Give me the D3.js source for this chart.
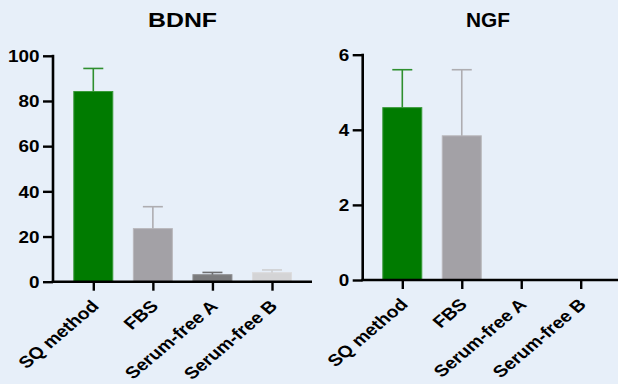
<!DOCTYPE html>
<html><head><meta charset="utf-8">
<script src="https://cdn.jsdelivr.net/npm/d3@7"></script>
<style>
html,body{margin:0;padding:0;background:#e7eff9;}
svg{display:block;font-family:"Liberation Sans",Arial,sans-serif;font-weight:bold;}
</style></head><body>
<svg id="c" width="618" height="384"></svg>
<script>
const categories = ["SQ method", "FBS", "Serum-free A", "Serum-free B"];
const bdnfValues = [84.2, 23.5, 3.1, 4.0];
const bdnfErrors = [10.2, 9.7, 1.0, 1.2];
const ngfValues = [4.59, 3.84, 0, 0];
const ngfErrors = [1.01, 1.76, 0, 0];
const bdnfTicks = [0, 20, 40, 60, 80, 100];
const ngfTicks = [0, 2, 4, 6];
const barColors = ["#007b00", "#a3a1a6", "#7a7a7c", "#d4d4d6"];
const strokeColors = ["#3a9a3a", "#b9b8bc", "#8e8e90", "#dcdcde"];
const errColors = ["#2f8f2f", "#aeadb1", "#6e6e70", "#cfcfd1"];

const svg = d3.select("#c");
const SX = 1.18;

function panel(cfg) {
  const g = svg.append("g");
  const x = d3.scalePoint().domain(categories).range(cfg.xr);
  const y = d3.scaleLinear().domain(cfg.yd).range(cfg.yr);
  const bw = 39;
  g.selectAll("rect.bar").data(cfg.values).join("rect")
    .attr("x", (d, i) => x(categories[i]) - bw / 2)
    .attr("y", d => y(d))
    .attr("width", bw)
    .attr("height", d => y(0) - y(d))
    .attr("fill", (d, i) => barColors[i])
    .attr("stroke", (d, i) => strokeColors[i])
    .attr("stroke-width", 1)
    .style("display", d => d > 0 ? null : "none");
  cfg.values.forEach((v, i) => {
    const e = cfg.errors[i];
    if (!(v > 0)) return;
    const cx = x(categories[i]);
    g.append("line").attr("x1", cx).attr("x2", cx)
      .attr("y1", y(v)).attr("y2", y(v + e))
      .attr("stroke", errColors[i]).attr("stroke-width", 1.6);
    g.append("line").attr("x1", cx - 10).attr("x2", cx + 10)
      .attr("y1", y(v + e)).attr("y2", y(v + e))
      .attr("stroke", errColors[i]).attr("stroke-width", 1.6);
  });
  const ya = d3.axisLeft(y).tickValues(cfg.ticks).tickSize(10).tickFormat(d3.format("d"));
  const yg = g.append("g").attr("transform", `translate(${cfg.ax},0)`).call(ya);
  yg.select(".domain").attr("stroke", "#000").attr("stroke-width", 2.6)
    .attr("d", `M0,${cfg.yr[0]}V${y(cfg.yd[1]) - 1}`);
  yg.selectAll(".tick line").attr("stroke", "#000").attr("stroke-width", 2.4);
  yg.selectAll(".tick text").attr("fill", "#000").style("font-size", "16px")
    .attr("x", 0).attr("dy", "0.36em")
    .attr("transform", `translate(-13.5,0) scale(${SX},1)`)
    .style("font-weight", "bold").style("font-family", "Liberation Sans, Arial, sans-serif");
  const xa = d3.axisBottom(x).tickSize(9).tickFormat("");
  const xg = g.append("g").attr("transform", `translate(0,${cfg.yr[0]})`).call(xa);
  xg.select(".domain").attr("stroke", "#000").attr("stroke-width", 2.6)
    .attr("d", `M${cfg.ax - 1.3},0H${cfg.xend}`);
  xg.selectAll(".tick line").attr("stroke", "#000").attr("stroke-width", 2.4);
  g.selectAll("text.xl").data(categories).join("text")
    .attr("class", "xl")
    .attr("text-anchor", "end")
    .attr("transform", d => `translate(${x(d) + 6.5},${cfg.yr[0] + 25.5}) scale(${SX},1) rotate(-45)`)
    .style("font-size", "16.5px")
    .attr("fill", "#000")
    .text(d => d);
  g.append("text").attr("x", cfg.tx).attr("y", 26.5).attr("text-anchor", "middle")
    .style("font-size", "21px").attr("fill", "#000")
    .attr("textLength", cfg.tl).attr("lengthAdjust", "spacingAndGlyphs")
    .text(cfg.title);
}

panel({title: "BDNF", values: bdnfValues, errors: bdnfErrors, ticks: bdnfTicks,
  xr: [93.3, 272], yd: [0, 100], yr: [281.7, 55.8], ax: 53, xend: 312, tx: 182.5, tl: 69});
panel({title: "NGF", values: ngfValues, errors: ngfErrors, ticks: ngfTicks,
  xr: [402.3, 580.7], yd: [0, 6], yr: [280, 54.7], ax: 362.7, xend: 620, tx: 488, tl: 44});
</script>
</body></html>
